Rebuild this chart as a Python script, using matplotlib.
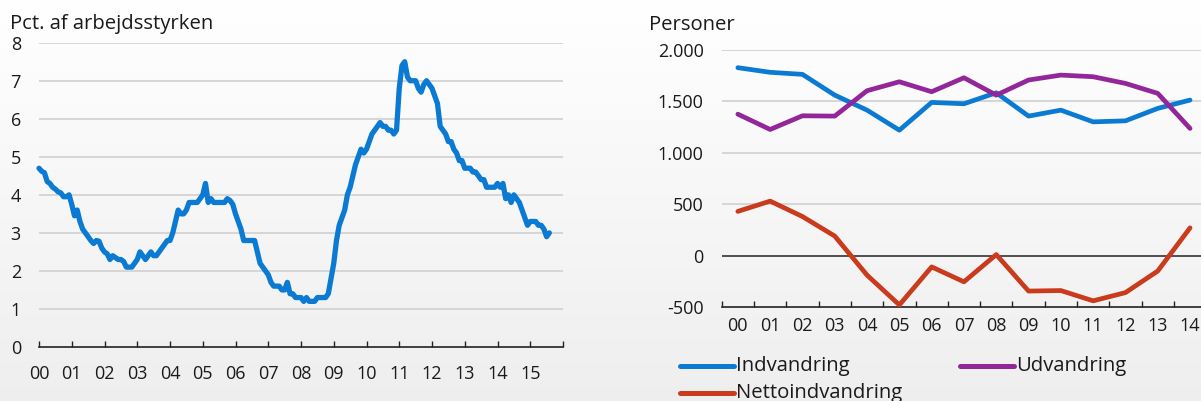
import numpy as np
import matplotlib
matplotlib.use("Agg")
import matplotlib.pyplot as plt
from matplotlib.lines import Line2D

plt.rcParams['font.family'] = ['Open Sans', 'DejaVu Sans']

# ---------------- data ----------------
# Left: unemployment, pct. of labour force, monthly from Jan 2000
unemp_start_year = 2000
unemp = [
    4.7, 4.62, 4.58, 4.35, 4.3, 4.2, 4.15, 4.08, 4.05, 3.95, 3.95, 4.0,      # 2000
    3.75, 3.45, 3.6, 3.3, 3.1, 3.0, 2.9, 2.8, 2.72, 2.8, 2.78, 2.6,         # 2001
    2.5, 2.45, 2.3, 2.4, 2.35, 2.3, 2.3, 2.25, 2.1, 2.1, 2.1, 2.2,          # 2002
    2.3, 2.5, 2.4, 2.3, 2.4, 2.5, 2.4, 2.4, 2.5, 2.6, 2.7, 2.8,             # 2003
    2.8, 3.0, 3.3, 3.6, 3.5, 3.5, 3.6, 3.8, 3.8, 3.8, 3.8, 3.9,             # 2004
    4.0, 4.3, 3.8, 3.9, 3.8, 3.8, 3.8, 3.8, 3.8, 3.9, 3.85, 3.75,           # 2005
    3.5, 3.3, 3.1, 2.8, 2.8, 2.8, 2.8, 2.8, 2.5, 2.2, 2.1, 2.0,             # 2006
    1.9, 1.7, 1.6, 1.6, 1.6, 1.5, 1.5, 1.7, 1.4, 1.4, 1.3, 1.3,             # 2007
    1.3, 1.2, 1.3, 1.2, 1.2, 1.2, 1.3, 1.3, 1.3, 1.3, 1.4, 1.8,             # 2008
    2.2, 2.8, 3.2, 3.4, 3.6, 4.0, 4.2, 4.5, 4.8, 5.0, 5.2, 5.1,             # 2009
    5.2, 5.4, 5.6, 5.7, 5.8, 5.9, 5.8, 5.8, 5.7, 5.7, 5.6, 5.7,             # 2010
    6.8, 7.4, 7.5, 7.1, 7.0, 7.0, 7.0, 6.8, 6.7, 6.9, 7.0, 6.9,             # 2011
    6.8, 6.6, 6.4, 5.8, 5.7, 5.6, 5.4, 5.4, 5.2, 5.1, 4.9, 4.9,             # 2012
    4.7, 4.7, 4.7, 4.6, 4.6, 4.5, 4.4, 4.4, 4.2, 4.2, 4.2, 4.2,             # 2013
    4.3, 4.2, 4.3, 3.9, 4.0, 3.8, 4.0, 3.9, 3.8, 3.6, 3.4, 3.2,             # 2014
    3.3, 3.3, 3.3, 3.2, 3.2, 3.1, 2.9, 3.0,                                 # 2015
]
left_years = list(range(2000, 2017))
left_labels = ['00', '01', '02', '03', '04', '05', '06', '07',
               '08', '09', '10', '11', '12', '13', '14', '15', '']
left_yticks = [0, 1, 2, 3, 4, 5, 6, 7, 8]

# Right: migration, persons, yearly
mig_labels = ['00', '01', '02', '03', '04', '05', '06', '07',
              '08', '09', '10', '11', '12', '13', '14']
indvandring = [1828, 1783, 1763, 1561, 1415, 1220, 1490, 1477, 1584,
               1357, 1415, 1301, 1311, 1432, 1513]
udvandring = [1376, 1227, 1360, 1357, 1604, 1691, 1594, 1730, 1561,
              1708, 1756, 1740, 1675, 1578, 1237]
netto = [430, 530, 380, 190, -190, -480, -110, -255, 10,
         -345, -340, -440, -360, -150, 270]
series_names = ['Indvandring', 'Udvandring', 'Nettoindvandring']
right_yticks = [-500, 0, 500, 1000, 1500, 2000]
right_ytick_labels = ['-500', '0', '500', '1.000', '1.500', '2.000']

BLUE = '#0a7ad2'
PURPLE = '#93279a'
RED = '#c93b1c'
GRID = '#d3d3d3'
TXT = '#1a1a1a'
FS = 13      # numbers
FST = 14.6   # words

W, H = 1201, 401
fig = plt.figure(figsize=(W / 100, H / 100), dpi=100)

# background gradient
bg = fig.add_axes([0, 0, 1, 1], zorder=-10)
grad = np.linspace(1.0, 0.935, 256).reshape(-1, 1)
bg.imshow(np.dstack([grad, grad, grad]), aspect='auto', extent=[0, 1, 0, 1])
bg.axis('off')

def px(x0, y_top, x1, y_bot):
    return [x0 / W, 1 - y_bot / H, (x1 - x0) / W, (y_bot - y_top) / H]

# ---------------- left chart ----------------
axl = fig.add_axes(px(39, 42.7, 563, 347))
axl.patch.set_alpha(0)
t = unemp_start_year + np.arange(len(unemp)) / 12.0
axl.plot(t, unemp, color=BLUE, lw=3.8, solid_joinstyle='round', solid_capstyle='round', zorder=3, clip_on=False)
axl.set_xlim(2000, 2016)
axl.set_ylim(0, 8)
for v in left_yticks[1:]:
    axl.axhline(v, color=GRID, lw=1.3, zorder=1)
for s in ['top', 'right', 'left']:
    axl.spines[s].set_visible(False)
axl.spines['bottom'].set_color('#222222')
axl.spines['bottom'].set_linewidth(1.2)
axl.set_xticks(left_years)
axl.set_xticklabels(left_labels)
axl.set_yticks(left_yticks)
axl.tick_params(axis='x', direction='in', length=4.5, width=1, color='#222222',
                labelsize=FS, labelcolor=TXT, pad=13)
axl.tick_params(axis='y', length=0, labelsize=FS, labelcolor=TXT, pad=13)
fig.text(10.5 / W, 1 - 29.5 / H, 'Pct. af arbejdsstyrken', fontsize=FST, color=TXT,
         ha='left', va='baseline')

# ---------------- right chart ----------------
cat_w = 32.3
axr = fig.add_axes(px(721.7, 50, 721.7 + 15 * cat_w, 307))
axr.patch.set_alpha(0)
xr = np.arange(len(mig_labels))
for vals, col in zip([indvandring, udvandring, netto], [BLUE, PURPLE, RED]):
    axr.plot(xr, vals, color=col, lw=3.4, solid_joinstyle='round', solid_capstyle='round', zorder=3)
axr.set_xlim(-0.5, len(mig_labels) - 0.5)
axr.set_ylim(-500, 2000)
for v in [500, 1000, 1500, 2000]:
    axr.axhline(v, color=GRID, lw=1.3, zorder=1)
axr.axhline(0, color='#222222', lw=1.1, zorder=2)
for s in ['top', 'right', 'left']:
    axr.spines[s].set_visible(False)
axr.spines['bottom'].set_color('#222222')
axr.spines['bottom'].set_linewidth(1.2)
axr.set_xticks(np.arange(-0.5, len(mig_labels), 1.0))
axr.set_xticklabels([])
axr.set_xticks(xr, minor=True)
axr.set_xticklabels(mig_labels, minor=True)
axr.tick_params(axis='x', which='major', direction='in', length=4.5, width=1, color='#222222')
axr.tick_params(axis='x', which='minor', length=0, labelsize=FS, labelcolor=TXT, pad=7)
axr.set_yticks(right_yticks)
axr.set_yticklabels(right_ytick_labels)
axr.tick_params(axis='y', length=0, labelsize=FS, labelcolor=TXT, pad=13)
fig.text(649 / W, 1 - 29.5 / H, 'Personer', fontsize=FST, color=TXT, ha='left', va='baseline')

# legend
leg_items = [(series_names[0], BLUE, 680, 365.7),
             (series_names[1], PURPLE, 960, 365.7),
             (series_names[2], RED, 680, 393)]
for name, col, x0, y0 in leg_items:
    fig.add_artist(Line2D([x0 / W, (x0 + 54) / W], [1 - y0 / H, 1 - y0 / H],
                          color=col, lw=3.6, solid_capstyle='round'))
    fig.text((x0 + 56) / W, 1 - y0 / H, name, fontsize=FST, color=TXT,
             ha='left', va='center')

fig.savefig('out.png', dpi=100)
